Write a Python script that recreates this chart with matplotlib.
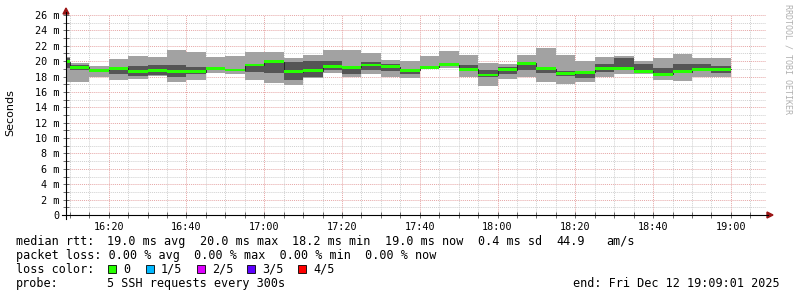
import matplotlib
matplotlib.use("Agg")
import matplotlib.pyplot as plt
from matplotlib.patches import Rectangle, Polygon
from matplotlib.lines import Line2D

W, H = 797, 297

# graph window and 5 minute bins (value of a bin is drawn up to its end time)
graph_start = "16:09:01"
graph_end = "19:09:01"
bin_end = ["16:10", "16:15", "16:20", "16:25", "16:30", "16:35", "16:40",
           "16:45", "16:50", "16:55", "17:00", "17:05", "17:10", "17:15",
           "17:20", "17:25", "17:30", "17:35", "17:40", "17:45", "17:50",
           "17:55", "18:00", "18:05", "18:10", "18:15", "18:20", "18:25",
           "18:30", "18:35", "18:40", "18:45", "18:50", "18:55", "19:00"]

# sorted pings per bin in ms (ping3 is the median)
ping1 = [17.3, 17.3, 18.0, 17.5, 17.65, 18.1, 17.3, 17.5, 18.4, 18.3, 17.5, 17.2,
         16.9, 17.8, 18.4, 17.95, 18.3, 18.0, 17.75, 18.95, 19.1, 17.95, 16.8,
         17.7, 18.0, 17.3, 17.05, 17.25, 17.95, 18.3, 18.35, 17.55, 17.45, 17.9, 17.9]
ping2 = [19.1, 18.8, 18.6, 18.3, 18.1, 18.2, 18.0, 18.3, 18.95, 18.75, 18.6, 18.5,
         17.55, 18.0, 18.8, 18.3, 18.9, 18.7, 18.3, 19.1, 19.35, 18.8, 17.9,
         18.35, 18.85, 18.45, 18.1, 17.8, 18.6, 18.9, 18.45, 18.05, 18.4, 18.75, 18.45]
ping3 = [19.9, 19.2, 18.8, 19.1, 18.7, 18.8, 18.6, 18.6, 19.0, 18.85, 19.5, 19.95,
         18.6, 18.75, 19.35, 19.2, 19.5, 19.25, 18.8, 19.2, 19.55, 18.95, 18.2,
         18.9, 19.75, 19.0, 18.35, 18.55, 19.0, 19.0, 18.7, 18.3, 18.65, 18.95, 18.95]
ping4 = [20.4, 19.5, 19.0, 19.15, 19.4, 19.5, 19.5, 19.3, 19.1, 19.0, 19.6, 20.1,
         19.9, 20.0, 20.0, 19.4, 19.9, 19.6, 19.0, 19.3, 19.7, 19.5, 18.85,
         19.3, 19.8, 19.1, 18.7, 18.75, 19.6, 20.35, 19.6, 19.1, 19.6, 19.65, 19.4]
ping5 = [20.6, 19.8, 19.35, 20.25, 20.7, 20.5, 21.5, 21.2, 20.6, 20.7, 21.2, 21.2,
         20.4, 20.8, 21.4, 21.5, 21.0, 20.15, 20.05, 20.7, 21.35, 20.8, 19.8,
         19.6, 20.85, 21.75, 20.85, 20.0, 20.6, 20.7, 20.05, 20.45, 20.95, 20.35, 20.45]

x_labels = ["16:20", "16:40", "17:00", "17:20", "17:40", "18:00", "18:20", "18:40", "19:00"]
y_ticks = [0, 2, 4, 6, 8, 10, 12, 14, 16, 18, 20, 22, 24, 26]

legend_rtt = [("median rtt:", 16), ("19.0 ms avg", 107), ("20.0 ms max", 200),
              ("18.2 ms min", 292), ("19.0 ms now", 385), ("0.4 ms sd", 478),
              ("44.9", 556), ("am/s", 606)]
legend_loss = "packet loss: 0.00 % avg  0.00 % max  0.00 % min  0.00 % now"
loss_labels = ["0", "1/5", "2/5", "3/5", "4/5"]
loss_colors = ["#26ff00", "#00b8ff", "#dd00ff", "#5e00ff", "#ff0000"]
probe_text = "5 SSH requests every 300s"
end_text = "end: Fri Dec 12 19:09:01 2025"

MONO = "DejaVu Sans Mono"


def to_min(s):
    parts = [int(p) for p in s.split(":")]
    while len(parts) < 3:
        parts.append(0)
    return parts[0] * 60 + parts[1] + parts[2] / 60.0


def fx(px):
    return px / W


def fy(py):
    return 1 - py / H


t0, t1 = to_min(graph_start), to_min(graph_end)
edges = [t0] + [to_min(t) for t in bin_end]


def ext(vals):
    return list(vals) + [vals[-1]]


fig = plt.figure(figsize=(W / 100, H / 100), dpi=100)
fig.patch.set_facecolor("white")
ax = fig.add_axes([fx(66), fy(215), 700 / W, 200 / H])
ax.set_xlim(t0, t1)
ax.set_ylim(0, 26)
for s in ax.spines.values():
    s.set_visible(False)

# grid, rrdtool style dotted lines
dots = (0, (1, 1))
for v in range(1, 27):
    col = "#e6a6a6" if v % 2 == 0 else "#d0d0d0"
    ax.axhline(v, color=col, lw=0.7, ls=dots, zorder=0)
m = to_min("16:10")
while m < t1:
    major = (int(round(m)) % 20) == 0
    ax.axvline(m, color="#e6a6a6" if major else "#d0d0d0", lw=0.7, ls=dots, zorder=0)
    m += 5

# smoke
ax.fill_between(edges, ext(ping1), ext(ping5), step="post", color="#a2a2a2", lw=0, zorder=2)
ax.fill_between(edges, ext(ping2), ext(ping4), step="post", color="#555555", lw=0, zorder=3)
ax.step(edges, ext(ping3), where="post", color="#202020", lw=0.6, zorder=4)
med_lo = [v - 0.19 for v in ping3]
med_hi = [v + 0.19 for v in ping3]
ax.fill_between(edges, ext(med_lo), ext(med_hi), step="post", color=loss_colors[0], lw=0, zorder=5)

# ticks
ax.set_yticks(y_ticks)
ax.set_yticklabels(["0"] + ["%d m" % v for v in y_ticks[1:]])
ax.set_yticks(range(0, 27), minor=True)
ax.set_xticks([to_min(t) for t in x_labels])
ax.set_xticklabels(x_labels)
ax.set_xticks([to_min("16:10") + 5 * i for i in range(36)], minor=True)
ax.tick_params(which="both", direction="inout", length=4, width=0.6, color="#555555")
ax.tick_params(axis="x", which="major", pad=3, labelsize=7.3)
ax.tick_params(axis="y", which="major", pad=3, labelsize=7.3)
for lab in ax.get_xticklabels() + ax.get_yticklabels():
    lab.set_family(MONO)

# axis lines with arrows
fig.add_artist(Line2D([fx(62), fx(768)], [fy(215), fy(215)], color="black", lw=0.8))
fig.add_artist(Line2D([fx(66), fx(66)], [fy(219), fy(12)], color="black", lw=0.8))
fig.add_artist(Polygon([(fx(767), fy(212)), (fx(773), fy(215)), (fx(767), fy(218))],
                       closed=True, color="#9a1515", transform=fig.transFigure))
fig.add_artist(Polygon([(fx(63), fy(14)), (fx(66), fy(8)), (fx(69), fy(14))],
                       closed=True, color="#9a1515", transform=fig.transFigure))

fig.text(fx(10), fy(113), "Seconds", rotation=90, ha="center", va="center",
         fontsize=8, family="DejaVu Sans")
fig.text(fx(788), fy(4), "RRDTOOL / TOBI OETIKER", rotation=270, ha="center", va="top",
         fontsize=6, family=MONO, color="#b0b0b0")

# legend
for txt, px in legend_rtt:
    fig.text(fx(px), fy(241.5), txt, ha="left", va="center", fontsize=8.5, family=MONO)
fig.text(fx(16), fy(255.5), legend_loss, ha="left", va="center", fontsize=8.5, family=MONO)
fig.text(fx(16), fy(269.5), "loss color:", ha="left", va="center", fontsize=8.5, family=MONO)
box_x = [108, 146, 197, 247, 298]
for bx, lab, col in zip(box_x, loss_labels, loss_colors):
    fig.add_artist(Rectangle((fx(bx), fy(273)), 8 / W, 8 / H, facecolor=col,
                             edgecolor="black", lw=0.6, transform=fig.transFigure))
    fig.text(fx(bx + 15), fy(269.5), lab, ha="left", va="center", fontsize=8.5, family=MONO)
fig.text(fx(16), fy(283.5), "probe:", ha="left", va="center", fontsize=8.5, family=MONO)
fig.text(fx(107), fy(283.5), probe_text, ha="left", va="center", fontsize=8.5, family=MONO)
fig.text(fx(780), fy(283.5), end_text, ha="right", va="center", fontsize=8.5, family=MONO)

fig.savefig("out.png", dpi=100, facecolor="white")
